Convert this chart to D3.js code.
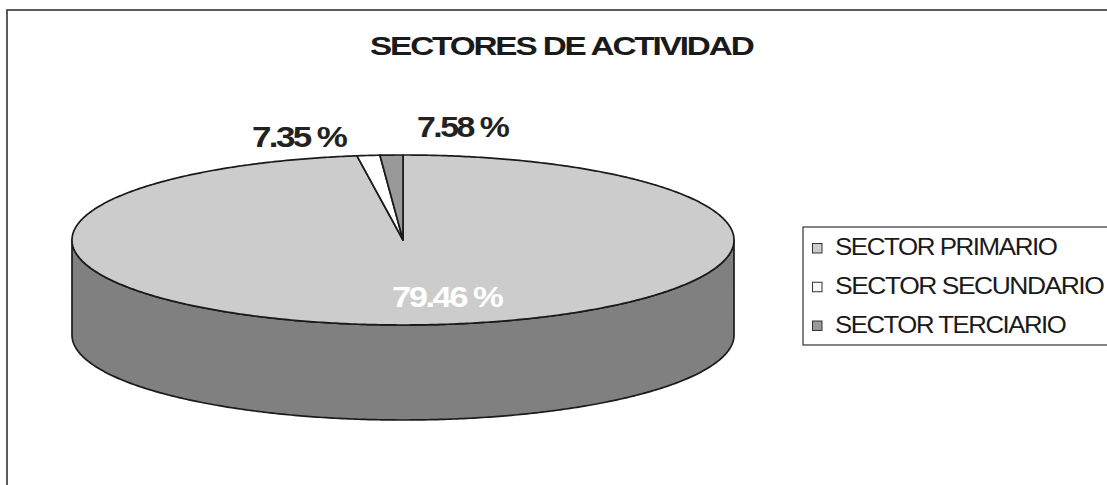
<!DOCTYPE html>
<html>
<head>
<meta charset="utf-8">
<script src="https://cdn.jsdelivr.net/npm/d3@7"></script>
<style>
  html, body { margin: 0; padding: 0; background: #fff; }
  svg { display: block; }
</style>
</head>
<body>
<svg id="chart" width="1107" height="485"></svg>
<script>
// ---- data ----
const categories = ["SECTOR PRIMARIO", "SECTOR SECUNDARIO", "SECTOR TERCIARIO"];
// slice shares as drawn in the picture (percent of the pie)
const sliceShares = [97.78, 1.11, 1.11];
// labels printed on the chart
const labelTexts = ["79.46 %", "7.35 %", "7.58 %"];
const titleText = "SECTORES DE ACTIVIDAD";

// ---- layout ----
const W = 1107, H = 485;
const cx = 403, cy = 240, rx = 331, ry = 85, depth = 95;
const topColors = ["#cccccc", "#ffffff", "#999999"];
const sideColors = ["#808080", "#b3b3b3", "#666666"];
const swatchColors = ["#cccccc", "#f8f8f8", "#999999"];
const outline = "#1a1a1a";
const FONT = "Liberation Sans, Arial, sans-serif";

const svg = d3.select("#chart");

// place text at (x,y) with anchor, tight letter spacing, scaled horizontally to a target width
function fitText(parent, txt, x, y, opts) {
  const t = parent.append("text")
    .attr("font-family", FONT)
    .attr("font-weight", opts.weight || "normal")
    .attr("font-size", opts.size)
    .attr("letter-spacing", opts.ls)
    .attr("fill", opts.fill)
    .text(txt);
  const w = t.node().getComputedTextLength() - opts.ls; // drop trailing spacing
  const k = opts.width / w;
  let x0 = x;
  if (opts.anchor === "middle") x0 = x - opts.width / 2;
  t.attr("transform", `translate(${x0},${y}) scale(${k},1)`);
  return t;
}

// outer frame
svg.append("rect").attr("x", 7).attr("y", 10).attr("width", 1300).attr("height", 700)
  .attr("fill", "#fff").attr("stroke", "#333").attr("stroke-width", 1.6);

// title
fitText(svg, titleText, 562.5, 54.5,
  { anchor: "middle", weight: "bold", size: 25, ls: -1.6, width: 385, fill: "#1a1a1a" });

// pie layout via d3
const pie = d3.pie().sort(null).value(d => d).startAngle(0).endAngle(2 * Math.PI);
const arcs = pie(sliceShares);

const sx = d3.scaleLinear().domain([-1, 1]).range([cx - rx, cx + rx]);
const sy = d3.scaleLinear().domain([-1, 1]).range([cy - ry, cy + ry]);
function pt(a, r, z) {
  return [sx(r * Math.sin(a)), sy(-r * Math.cos(a)) + (z || 0)];
}
function arcPts(a0, a1, z) {
  const n = Math.max(2, Math.ceil(Math.abs(a1 - a0) / 0.01));
  const out = [];
  for (let i = 0; i <= n; i++) out.push(pt(a0 + (a1 - a0) * i / n, 1, z));
  return out;
}
const line = d3.line();

// side walls (front half: angles PI/2 .. 3PI/2)
const g = svg.append("g");
arcs.forEach((d, i) => {
  const a0 = Math.max(d.startAngle, Math.PI / 2);
  const a1 = Math.min(d.endAngle, 3 * Math.PI / 2);
  if (a1 <= a0) return;
  const topArc = arcPts(a0, a1, 0);
  const botArc = arcPts(a1, a0, depth);
  g.append("path")
    .attr("d", line(topArc.concat(botArc)) + "Z")
    .attr("fill", sideColors[i]).attr("stroke", outline)
    .attr("stroke-width", 1.7).attr("stroke-linejoin", "round");
});

// top faces
arcs.forEach((d, i) => {
  const pts = [[cx, cy]].concat(arcPts(d.startAngle, d.endAngle, 0));
  g.append("path")
    .attr("d", line(pts) + "Z")
    .attr("fill", topColors[i]).attr("stroke", outline)
    .attr("stroke-width", 1.7).attr("stroke-linejoin", "round");
});

// data labels
const labelPos = [
  { x: 448, y: 307, fill: "#ffffff", len: 112 },
  { x: 300, y: 146.5, fill: "#222", len: 96 },
  { x: 463.5, y: 137, fill: "#222", len: 93 }
];
labelTexts.forEach((t, i) => {
  fitText(svg, t, labelPos[i].x, labelPos[i].y,
    { anchor: "middle", weight: "bold", size: 30, ls: -2.2, width: labelPos[i].len, fill: labelPos[i].fill });
});

// legend
const lg = svg.append("g");
lg.append("rect").attr("x", 803).attr("y", 227).attr("width", 400).attr("height", 118)
  .attr("fill", "#fff").attr("stroke", "#333").attr("stroke-width", 1.2);
const legendLens = [223, 270, 232];
const ly = d3.scalePoint().domain(categories).range([255, 332.5]);
categories.forEach((c, i) => {
  const y = ly(c);
  lg.append("rect").attr("x", 812.5).attr("y", y - 11.5).attr("width", 9.5).attr("height", 9.5)
    .attr("fill", swatchColors[i]).attr("stroke", "#333").attr("stroke-width", 1);
  fitText(lg, c, 835, y,
    { anchor: "start", size: 23.5, ls: -1.3, width: legendLens[i], fill: "#1a1a1a" });
});
</script>
</body>
</html>
